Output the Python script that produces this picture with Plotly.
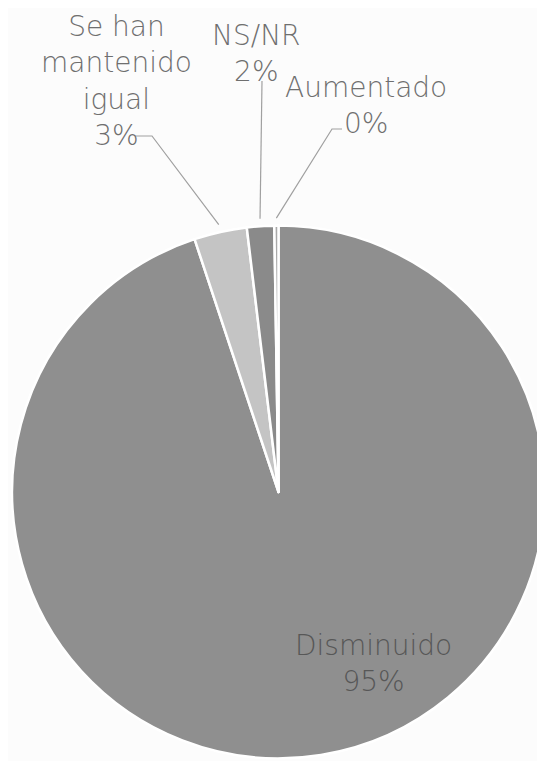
import math
import plotly.graph_objects as go

# ---- data ----
categories = ["Disminuido", "Se han mantenido igual", "NS/NR", "Aumentado"]
label_text = ["Disminuido", "Se han<br>mantenido<br>igual", "NS/NR", "Aumentado"]
values = [94.9, 3.2, 1.65, 0.25]
pct_labels = ["95%", "3%", "2%", "0%"]
slice_colors = ["#8f8f8f", "#c4c4c4", "#8a8a8a", "#a9a9a9"]

# ---- layout constants (screen pixels; page body has an 8px default margin) ----
W, H = 545, 761
OFF = 8
CX, CY, R = 278.5, 492.0, 266.4

def px(x):
    return (x - OFF) / W

def py(y):
    return 1 - (y - OFF) / H

fig = go.Figure()
fig.add_trace(go.Pie(
    labels=categories,
    values=values,
    sort=False,
    direction="clockwise",
    rotation=0,
    textinfo="none",
    marker=dict(colors=slice_colors, line=dict(color="white", width=2.5)),
    domain=dict(x=[px(CX - R), px(CX + R)], y=[py(CY + R), py(CY - R)]),
    showlegend=False,
))

# slice mid-angles computed from data
total = sum(values)
anchors = []
cum = 0.0
for v in values:
    theta = 2 * math.pi * (cum + v / 2) / total
    cum += v
    rr = R * 1.028
    anchors.append((CX + rr * math.sin(theta), CY - rr * math.cos(theta)))

# label placement (pixel centre of text block), font colours, leader elbows
label_pos = [(373, 663), (116, 81), (256, 54), (366, 105)]
label_col = ["#575757", "#6f6f6f", "#6f6f6f", "#6f6f6f"]
leaders = [
    None,
    [(135, 136), (152, 136)],
    [(262, 81)],
    [(342, 129), (332, 129)],
]

for i in range(len(categories)):
    x, y = label_pos[i]
    fig.add_annotation(
        x=px(x), y=py(y), xref="paper", yref="paper",
        text=label_text[i] + "<br>" + pct_labels[i],
        showarrow=False, xanchor="center", yanchor="middle", align="center",
        font=dict(family="DejaVu Sans", size=28, color=label_col[i], weight=300),
    )
    if leaders[i]:
        pts = leaders[i] + [anchors[i]]
        path = "M " + " L ".join(f"{px(a):.5f},{py(b):.5f}" for a, b in pts)
        fig.add_shape(type="path", path=path, xref="paper", yref="paper",
                      line=dict(color="#a0a0a0", width=1.2))

fig.update_layout(
    width=W, height=H,
    margin=dict(l=0, r=0, t=0, b=0),
    paper_bgcolor="#fcfcfc",
    plot_bgcolor="#fcfcfc",
)

fig.write_html("out.html")
